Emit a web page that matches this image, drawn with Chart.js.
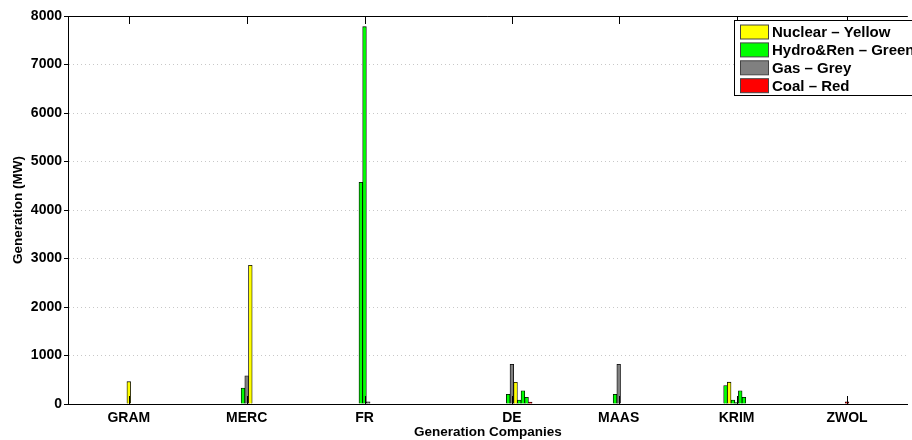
<!DOCTYPE html>
<html>
<head>
<meta charset="utf-8">
<script src="https://cdn.jsdelivr.net/npm/chart.js@4.4.1/dist/chart.umd.min.js"></script>
<style>
  html, body { margin: 0; padding: 0; background: #fff; }
  #wrap { width: 912px; height: 440px; }
</style>
</head>
<body>
<div id="wrap"><canvas id="genChart" width="912" height="440"></canvas></div>
<script>
// generating units along the x axis (one bar per unit)
const unitCount = 228;
const companies = ['GRAM', 'MERC', 'FR', 'DE', 'MAAS', 'KRIM', 'ZWOL'];
const companyUnits = [16, 48, 80, 120, 149, 181, 211];
const yTicks = [0, 1000, 2000, 3000, 4000, 5000, 6000, 7000, 8000];

const nuclearUnits = [16, 49, 121, 179];
const nuclearMW = [460, 2860, 447, 450];
const hydroUnits = [47, 79, 80, 119, 122, 123, 124, 148, 178, 180, 181, 182, 183];
const hydroMW = [330, 4570, 7780, 200, 82, 274, 140, 200, 380, 80, 30, 274, 140];
const gasUnits = [48, 81, 120, 149];
const gasMW = [580, 45, 818, 820];
const coalUnits = [125, 211];
const coalMW = [40, 47];

const fontFamily = "'Liberation Sans', Arial, Helvetica, sans-serif";

function buildLabels() {
    const labels = new Array(unitCount).fill('');
    companyUnits.forEach((u, i) => { labels[u] = companies[i]; });
    return labels;
}

function series(units, values) {
    const out = new Array(unitCount).fill(null);
    units.forEach((u, i) => { out[u] = values[i]; });
    return out;
}

const labels = buildLabels();

const legendEntries = [
    { text: 'Nuclear \u2013 Yellow', color: '#ffff00' },
    { text: 'Hydro&Ren \u2013 Green', color: '#00ff00' },
    { text: 'Gas \u2013 Grey', color: '#808080' },
    { text: 'Coal \u2013 Red', color: '#ff0000' }
];

// matlab style frame, inward ticks and the boxed legend
const framePlugin = {
    id: 'frame',
    afterDraw(chart) {
        const ctx = chart.ctx;
        const area = chart.chartArea;
        const x = chart.scales.x;
        ctx.save();
        ctx.strokeStyle = '#000';
        ctx.lineWidth = 1;
        ctx.beginPath();
        ctx.moveTo(area.left, area.top + 0.5);
        ctx.lineTo(area.right, area.top + 0.5);
        companyUnits.forEach(u => {
            const px = Math.round(x.getPixelForValue(u)) + 0.5;
            ctx.moveTo(px, area.top);
            ctx.lineTo(px, area.top + 8);
            ctx.moveTo(px, area.bottom);
            ctx.lineTo(px, area.bottom - 8);
        });
        ctx.stroke();

        // legend box
        const lx = 734.5, ly = 20.5, lw = 190, lh = 75;
        ctx.fillStyle = '#fff';
        ctx.fillRect(lx, ly, lw, lh);
        ctx.strokeRect(lx, ly, lw, lh);
        ctx.font = 'bold 15px ' + fontFamily;
        ctx.textBaseline = 'middle';
        legendEntries.forEach((e, i) => {
            const cy = 32 + i * 17.9;
            ctx.fillStyle = e.color;
            ctx.fillRect(740.5, cy - 7, 28, 14);
            ctx.strokeStyle = '#444';
            ctx.strokeRect(740.5, cy - 7, 28, 14);
            ctx.fillStyle = '#000';
            ctx.fillText(e.text, 772, cy + 1);
        });
        ctx.restore();
    }
};

const ctx = document.getElementById('genChart').getContext('2d');

new Chart(ctx, {
    type: 'bar',
    data: {
        labels: labels,
        datasets: [
            { label: 'Nuclear', data: series(nuclearUnits, nuclearMW), backgroundColor: '#ffff00' },
            { label: 'Hydro&Ren', data: series(hydroUnits, hydroMW), backgroundColor: '#00ff00' },
            { label: 'Gas', data: series(gasUnits, gasMW), backgroundColor: '#808080' },
            { label: 'Coal', data: series(coalUnits, coalMW), backgroundColor: '#ff0000' }
        ]
    },
    options: {
        responsive: false,
        animation: false,
        layout: { padding: { top: 16, right: 0, bottom: 0, left: 0 } },
        datasets: {
            bar: {
                borderColor: '#000',
                borderWidth: 0.8,
                borderSkipped: 'bottom',
                barPercentage: 1,
                categoryPercentage: 1
            }
        },
        plugins: {
            legend: { display: false },
            tooltip: { enabled: false }
        },
        scales: {
            x: {
                stacked: true,
                grid: { display: false, drawTicks: false },
                border: { color: '#000', width: 1 },
                ticks: {
                    autoSkip: false,
                    maxRotation: 0,
                    minRotation: 0,
                    padding: 6,
                    color: '#000',
                    font: { family: fontFamily, size: 14, weight: 'bold' }
                },
                title: {
                    display: true,
                    text: 'Generation Companies',
                    color: '#000',
                    padding: { top: 0, bottom: 0 },
                    font: { family: fontFamily, size: 13.5, weight: 'bold' }
                },
                afterFit(scale) { scale.height = 36; }
            },
            y: {
                stacked: true,
                min: 0,
                max: 8000,
                afterBuildTicks(scale) { scale.ticks = yTicks.map(v => ({ value: v })); },
                grid: { color: '#c8c8c8', tickColor: '#000', tickLength: 4 },
                border: { color: '#000', width: 1, dash: [1, 3] },
                ticks: {
                    padding: 2,
                    color: '#000',
                    font: { family: fontFamily, size: 14, weight: 'bold' },
                    callback: v => String(v)
                },
                title: {
                    display: true,
                    text: 'Generation (MW)',
                    color: '#000',
                    padding: { top: 10, bottom: 0 },
                    font: { family: fontFamily, size: 13.5, weight: 'bold' }
                },
                afterFit(scale) { scale.width = 68; }
            }
        }
    },
    plugins: [framePlugin]
});
</script>
</body>
</html>
